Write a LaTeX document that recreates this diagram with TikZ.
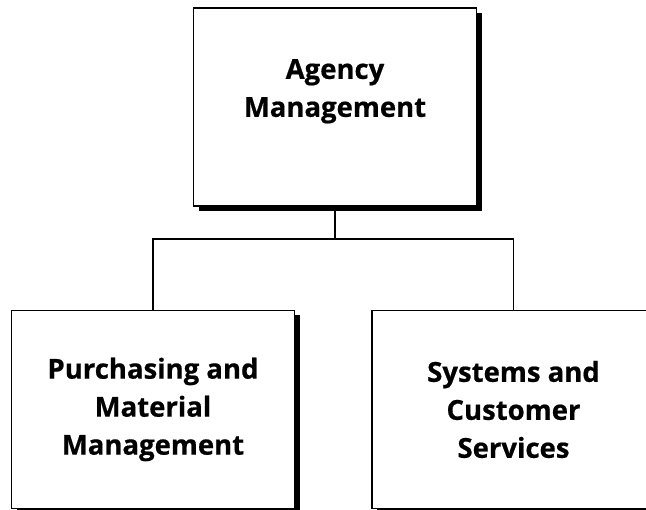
\documentclass[tikz,border=0pt]{standalone}
\usepackage{fontspec}
\setmainfont{Open Sans}[BoldFeatures={FakeBold=0.6}]
\usetikzlibrary{shadows}
\begin{document}
\begin{tikzpicture}[x=1pt,y=-1pt,
  orgbox/.style={draw=black, line width=1.5pt, fill=white,
    minimum width=283pt, minimum height=198pt, inner sep=0pt,
    align=center, font=\fontsize{27.5}{38}\selectfont\bfseries,
    general shadow={fill=black, shadow xshift=5pt, shadow yshift=-5pt}},
  link/.style={draw=black, line width=1.2pt}]
\useasboundingbox[fill=white] (0,0) rectangle (646,510);
\clip (0,0) rectangle (646,510);
\node[orgbox] (top) at (335,107) {Agency\\Management\\\mbox{}};
\node[orgbox] (left) at (153,409.5) {Purchasing and\\Material\\Management};
\node[orgbox] (right) at (513.5,409.5) {Systems and\\Customer\\Services};
\coordinate (j) at (335,239);
\draw[link] (top.south) -- (j);
\draw[link] (left.north) -- (left.north |- j) -- (right.north |- j) -- (right.north);
\end{tikzpicture}
\end{document}
